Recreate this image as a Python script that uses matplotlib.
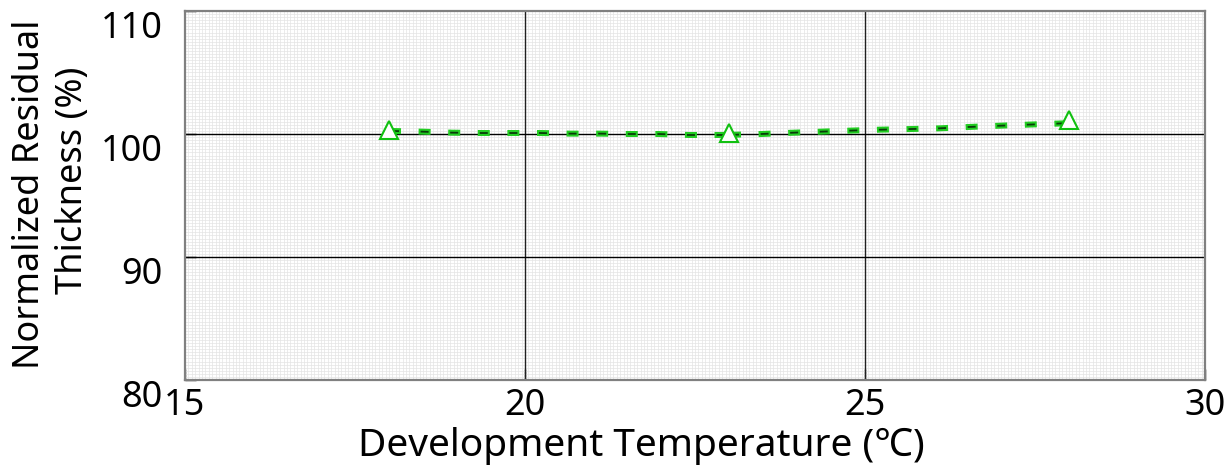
import matplotlib
matplotlib.use("Agg")
import matplotlib.pyplot as plt
from matplotlib.ticker import MultipleLocator

plt.rcParams['font.family'] = ['Noto Sans', 'DejaVu Sans']
plt.rcParams['lines.scale_dashes'] = False

# Measured points
temp = [18, 23, 28]
thick = [100.3, 100.1, 101.15]

# Fitted trend curve, two pieces
curve1_x = [18.0, 18.49, 18.92, 19.36, 19.79, 20.23, 20.66, 21.10, 21.53, 21.97, 22.41, 22.85, 23.0]
curve1_y = [100.25, 100.19, 100.11, 100.08, 100.08, 100.08, 100.03, 100.03, 100.0, 100.0, 99.92, 99.92, 99.93]
curve2_x = [23.0, 23.48, 23.91, 24.35, 24.76, 25.2, 25.64, 26.09, 26.52, 26.96, 27.39, 28.0]
curve2_y = [99.93, 100.0, 100.1, 100.19, 100.27, 100.35, 100.4, 100.46, 100.57, 100.67, 100.76, 100.88]

xticks = [15, 20, 25, 30]
yticks = [80, 90, 100, 110]

W, H = 1229, 473
fig = plt.figure(figsize=(W / 100, H / 100), dpi=100)
L, R, T, B = 185, 1205, 11, 380
ax = fig.add_axes([L / W, 1 - B / H, (R - L) / W, (B - T) / H])

ax.set_xlim(15, 30)
ax.set_ylim(80, 110)
ax.set_xticks(xticks)
ax.set_yticks(yticks)
ax.xaxis.set_minor_locator(MultipleLocator(0.05))
ax.yaxis.set_minor_locator(MultipleLocator(0.25))
ax.grid(which='minor', color='#e4e4e4', linewidth=0.5)
ax.set_axisbelow(True)
# major grid drawn above the fine grid
for xv in xticks[1:-1]:
    ax.axvline(xv, color='#202020', linewidth=1.0, zorder=1)
for yv in yticks[1:-1]:
    ax.axhline(yv, color='black', linewidth=1.0, zorder=1)
ax.tick_params(which='minor', length=0)
ax.tick_params(which='major', direction='in', length=8, width=1, color='black')
ax.tick_params(axis='y', labelsize=26, pad=16)
ax.tick_params(axis='x', labelsize=26, pad=6)
for lab in ax.get_yticklabels():
    lab.set_va('top')
for s in ax.spines.values():
    s.set_color('#808080')
    s.set_linewidth(1.6)

px = 0.72
for cx, cy in [(curve1_x, curve1_y), (curve2_x, curve2_y)]:
    ax.plot(cx, cy, color='#22cc22', linewidth=6 * px,
            linestyle=(0, (12 * px, 17.6 * px)), dash_capstyle='butt', zorder=3)
    ax.plot(cx, cy, color='#0a3a0a', linewidth=1.8 * px,
            linestyle=(27.6 * px, (8 * px, 21.6 * px)), dash_capstyle='butt', zorder=4)

ax.plot(temp, thick, linestyle='none', marker='^', markersize=13,
        markerfacecolor='white', markeredgecolor='#11c011', markeredgewidth=1.5, zorder=5)

fig.text(641 / W, 1 - 446 / H, 'Development Temperature (℃)', fontsize=28,
         ha='center', va='center')
fig.text(30 / W, 1 - 194 / H, 'Normalized Residual', fontsize=26, rotation=90,
         ha='center', va='center')
fig.text(73 / W, 1 - 180 / H, 'Thickness (%)', fontsize=26, rotation=90,
         ha='center', va='center')

fig.savefig('out.png', dpi=100)
